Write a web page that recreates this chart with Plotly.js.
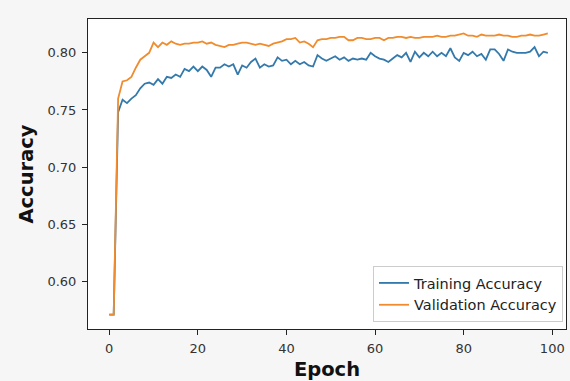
<!DOCTYPE html>
<html>
<head>
<meta charset="utf-8">
<script src="https://cdn.plot.ly/plotly-3.0.1.min.js"></script>
<style>html,body{margin:0;padding:0;background:#f6f6f6;}#chart{width:570px;height:381px;}</style>
</head>
<body>
<div id="chart"></div>
<script>
const epochs = Array.from({length: 100}, (_, i) => i);
const trainingAccuracy = [
0.571,0.571,0.748,0.759,0.756,0.760,0.763,0.769,0.773,0.774,
0.772,0.777,0.773,0.779,0.778,0.781,0.779,0.786,0.784,0.788,
0.784,0.788,0.785,0.779,0.787,0.787,0.790,0.788,0.790,0.781,
0.789,0.787,0.792,0.795,0.787,0.790,0.788,0.789,0.796,0.793,
0.794,0.790,0.793,0.790,0.792,0.789,0.788,0.798,0.795,0.793,
0.795,0.797,0.794,0.796,0.793,0.795,0.794,0.795,0.794,0.800,
0.797,0.795,0.794,0.792,0.795,0.798,0.796,0.800,0.792,0.801,
0.796,0.800,0.797,0.801,0.797,0.800,0.797,0.804,0.796,0.793,
0.800,0.798,0.801,0.797,0.799,0.794,0.803,0.803,0.799,0.793,
0.803,0.801,0.800,0.800,0.800,0.801,0.805,0.797,0.801,0.800];
const validationAccuracy = [
0.571,0.571,0.760,0.775,0.776,0.779,0.787,0.794,0.797,0.800,
0.809,0.805,0.809,0.807,0.810,0.808,0.807,0.808,0.808,0.809,
0.809,0.810,0.808,0.809,0.807,0.806,0.805,0.807,0.807,0.808,
0.809,0.809,0.808,0.807,0.808,0.807,0.806,0.808,0.809,0.810,
0.812,0.812,0.813,0.809,0.810,0.808,0.805,0.811,0.812,0.812,
0.813,0.813,0.814,0.814,0.811,0.811,0.813,0.813,0.812,0.812,
0.813,0.813,0.811,0.813,0.813,0.814,0.814,0.813,0.814,0.813,
0.813,0.814,0.814,0.814,0.815,0.814,0.814,0.815,0.815,0.816,
0.817,0.815,0.815,0.814,0.816,0.815,0.815,0.815,0.816,0.815,
0.815,0.814,0.814,0.815,0.815,0.816,0.815,0.815,0.816,0.817];
const xTicks = [0, 20, 40, 60, 80, 100];
const yTicks = [0.60, 0.65, 0.70, 0.75, 0.80];

const font = "DejaVu Sans, sans-serif";
const traces = [
  {x: epochs, y: trainingAccuracy, type: 'scatter', mode: 'lines', name: 'Training Accuracy',
   line: {color: '#3479ab', width: 1.8}},
  {x: epochs, y: validationAccuracy, type: 'scatter', mode: 'lines', name: 'Validation Accuracy',
   line: {color: '#f08c2e', width: 1.8}}
];
const axisCommon = {
  showgrid: false, zeroline: false, showline: true, mirror: true,
  linecolor: '#222', linewidth: 1, ticks: 'outside', ticklen: 5, tickwidth: 1,
  tickcolor: '#222', tickfont: {family: font, size: 13, color: '#333'}
};
const layout = {
  width: 570, height: 381,
  paper_bgcolor: '#f6f6f6', plot_bgcolor: '#ffffff',
  margin: {l: 88, r: 4, t: 19, b: 52},
  showlegend: true,
  font: {family: font},
  xaxis: Object.assign({}, axisCommon, {
    range: [-4.8, 103.1], tickvals: xTicks, ticktext: xTicks.map(String),
    ticklabelstandoff: 2,
    title: {text: 'Epoch', font: {family: font, size: 19.5, color: '#111', weight: 'bold'}, standoff: 10}
  }),
  yaxis: Object.assign({}, axisCommon, {
    range: [0.5584, 0.8296], tickvals: yTicks, ticktext: yTicks.map(v => v.toFixed(2)),
    ticklabelstandoff: 3,
    title: {text: 'Accuracy', font: {family: font, size: 19.5, color: '#111', weight: 'bold'}, standoff: 8}
  }),
  legend: {
    x: 0.9937, y: 0.0226, xanchor: 'right', yanchor: 'bottom',
    bgcolor: '#ffffff', bordercolor: '#cccccc', borderwidth: 1,
    font: {family: font, size: 14.5, color: '#222'}
  }
};
Plotly.newPlot('chart', traces, layout, {staticPlot: true});
</script>
</body>
</html>
